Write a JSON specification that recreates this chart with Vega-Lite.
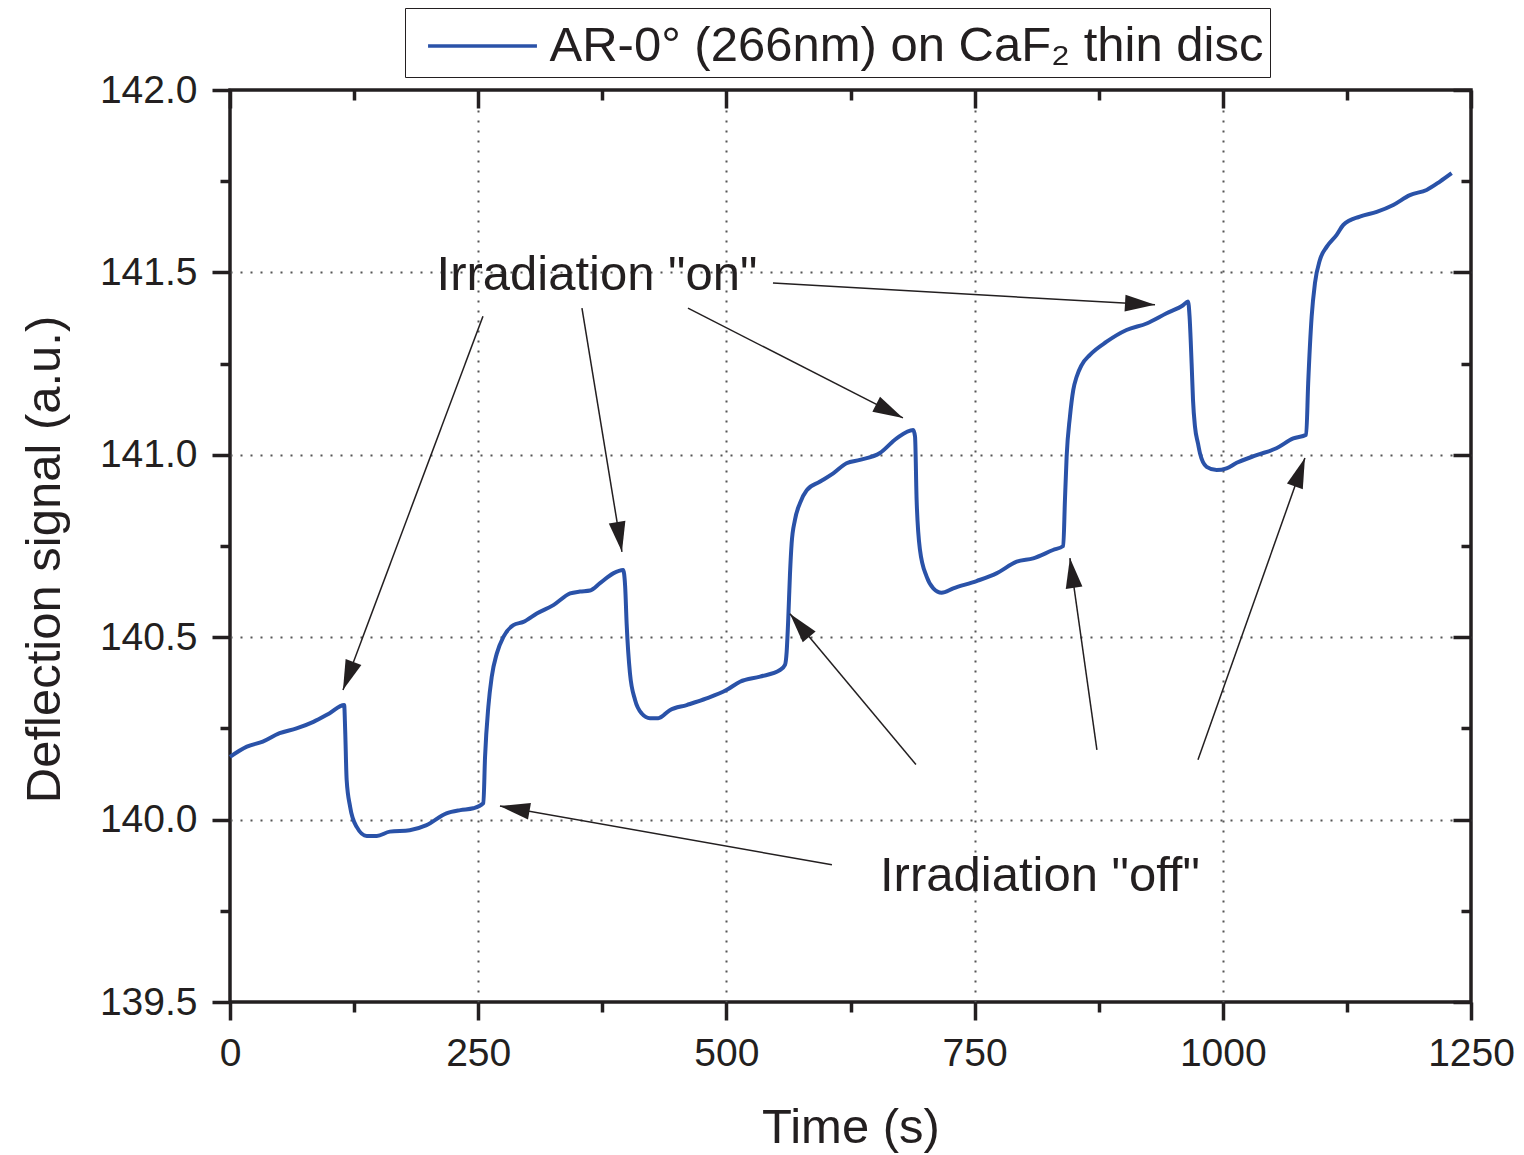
{
  "$schema": "https://vega.github.io/schema/vega-lite/v6.json",
  "autosize": "none",
  "width": 1241,
  "height": 912,
  "padding": {"left": 230, "top": 90, "right": 53, "bottom": 153},
  "background": "white",
  "config": {
    "font": "Liberation Sans",
    "view": {"stroke": "#231f20", "strokeWidth": 3.5},
    "axis": {"labelColor": "#231f20", "titleColor": "#231f20", "tickColor": "#231f20"}
  },
  "datasets": {
    "curve": [
      {"t": 0, "s": 140.172}, {"t": 17, "s": 140.2}, {"t": 33, "s": 140.214}, {"t": 50, "s": 140.237},
      {"t": 67, "s": 140.25}, {"t": 84, "s": 140.268}, {"t": 100, "s": 140.291}, {"t": 115, "s": 140.314},
      {"t": 116, "s": 140.246}, {"t": 117.5, "s": 140.109}, {"t": 121, "s": 140.035}, {"t": 127.6, "s": 139.98},
      {"t": 137.7, "s": 139.955}, {"t": 147.8, "s": 139.955}, {"t": 161, "s": 139.967}, {"t": 181, "s": 139.971},
      {"t": 198, "s": 139.985}, {"t": 218, "s": 140.017}, {"t": 232, "s": 140.026}, {"t": 245, "s": 140.031},
      {"t": 255.2, "s": 140.045}, {"t": 256.9, "s": 140.172}, {"t": 260.2, "s": 140.309}, {"t": 263.6, "s": 140.391},
      {"t": 268.7, "s": 140.455}, {"t": 275.4, "s": 140.501}, {"t": 285.4, "s": 140.533}, {"t": 295.5, "s": 140.542},
      {"t": 309, "s": 140.565}, {"t": 325.7, "s": 140.588}, {"t": 342.6, "s": 140.62}, {"t": 352.5, "s": 140.625},
      {"t": 362.6, "s": 140.628}, {"t": 372.7, "s": 140.648}, {"t": 386, "s": 140.675}, {"t": 396, "s": 140.684},
      {"t": 398, "s": 140.64}, {"t": 399.5, "s": 140.538}, {"t": 402.9, "s": 140.4}, {"t": 408, "s": 140.328},
      {"t": 414.7, "s": 140.291}, {"t": 423, "s": 140.278}, {"t": 431.4, "s": 140.278}, {"t": 443, "s": 140.3},
      {"t": 460, "s": 140.314}, {"t": 480, "s": 140.332}, {"t": 500, "s": 140.355}, {"t": 513.7, "s": 140.378},
      {"t": 534, "s": 140.392}, {"t": 554, "s": 140.41}, {"t": 559, "s": 140.424}, {"t": 560.7, "s": 140.46},
      {"t": 562.3, "s": 140.55}, {"t": 564, "s": 140.67}, {"t": 565.7, "s": 140.757}, {"t": 569, "s": 140.821},
      {"t": 574, "s": 140.867}, {"t": 580.9, "s": 140.903}, {"t": 594, "s": 140.926}, {"t": 607.6, "s": 140.949},
      {"t": 621, "s": 140.977}, {"t": 634.5, "s": 140.986}, {"t": 654.7, "s": 141.005}, {"t": 671.5, "s": 141.045},
      {"t": 688.2, "s": 141.068}, {"t": 690, "s": 141.05}, {"t": 691.6, "s": 140.876}, {"t": 695, "s": 140.739},
      {"t": 701.7, "s": 140.666}, {"t": 708.4, "s": 140.634}, {"t": 716.8, "s": 140.622}, {"t": 728.5, "s": 140.634},
      {"t": 752, "s": 140.654}, {"t": 772, "s": 140.675}, {"t": 792.4, "s": 140.707}, {"t": 809, "s": 140.716},
      {"t": 829, "s": 140.739}, {"t": 839.3, "s": 140.75}, {"t": 841, "s": 140.876}, {"t": 842.7, "s": 140.995},
      {"t": 846, "s": 141.104}, {"t": 849.4, "s": 141.178}, {"t": 852.8, "s": 141.214}, {"t": 857.8, "s": 141.246},
      {"t": 866.2, "s": 141.274}, {"t": 883, "s": 141.31}, {"t": 903, "s": 141.342}, {"t": 923.3, "s": 141.36},
      {"t": 943.4, "s": 141.388}, {"t": 960, "s": 141.41}, {"t": 965, "s": 141.42}, {"t": 966.5, "s": 141.38},
      {"t": 968.6, "s": 141.25}, {"t": 970, "s": 141.15}, {"t": 972, "s": 141.077}, {"t": 975, "s": 141.031},
      {"t": 977, "s": 141.004}, {"t": 983.7, "s": 140.967}, {"t": 993.8, "s": 140.958}, {"t": 1003.8, "s": 140.963},
      {"t": 1014, "s": 140.978}, {"t": 1034, "s": 140.999}, {"t": 1054, "s": 141.018}, {"t": 1071, "s": 141.045},
      {"t": 1084, "s": 141.055}, {"t": 1086, "s": 141.196}, {"t": 1089.5, "s": 141.379}, {"t": 1092.8, "s": 141.47},
      {"t": 1097.8, "s": 141.534}, {"t": 1104.6, "s": 141.57}, {"t": 1114.7, "s": 141.603}, {"t": 1121.3, "s": 141.63},
      {"t": 1138, "s": 141.653}, {"t": 1155, "s": 141.666}, {"t": 1171.7, "s": 141.685}, {"t": 1188.5, "s": 141.712},
      {"t": 1205.3, "s": 141.726}, {"t": 1218.7, "s": 141.749}, {"t": 1230.5, "s": 141.772}
    ],
    "arrows": [
      {"x1": 254.8, "y1": 141.38, "x2": 113.8, "y2": 140.355},
      {"x1": 354.5, "y1": 141.402, "x2": 394.8, "y2": 140.734},
      {"x1": 461.3, "y1": 141.402, "x2": 677.8, "y2": 141.101},
      {"x1": 546.9, "y1": 141.471, "x2": 931.7, "y2": 141.411},
      {"x1": 606.3, "y1": 139.876, "x2": 271.9, "y2": 140.037},
      {"x1": 690.9, "y1": 140.151, "x2": 564.0, "y2": 140.564},
      {"x1": 873.2, "y1": 140.191, "x2": 846.0, "y2": 140.717},
      {"x1": 975.0, "y1": 140.164, "x2": 1082.7, "y2": 140.991}
    ],
    "labels": [
      {"label": "Irradiation \"on\"", "x": 369.6, "y": 141.493},
      {"label": "Irradiation \"off\"", "x": 815.8, "y": 139.845}
    ]
  },
  "layer": [
    {
      "data": {"name": "curve"},
      "mark": {"type": "line", "strokeWidth": 4, "interpolate": "monotone"},
      "encoding": {
        "x": {
          "field": "t", "type": "quantitative",
          "scale": {"domain": [0, 1250], "nice": false, "zero": false},
          "axis": {
            "orient": "bottom",
            "title": "Time (s)",
            "values": [0, 125, 250, 375, 500, 625, 750, 875, 1000, 1125, 1250],
            "format": "d",
            "labelExpr": "datum.value % 250 === 0 ? datum.label : ''",
            "labelFontSize": 39, "labelPadding": 14, "labelFlush": false, "labelOverlap": false,
            "titleFontSize": 49, "titleFontWeight": "normal", "titlePadding": 30,
            "domain": false,
            "tickWidth": 3.5,
            "tickSize": {"condition": {"test": "datum.value % 250 === 0", "value": 18}, "value": 10},
            "grid": true,
            "gridColor": "#555555", "gridWidth": 2, "gridDash": [2, 8],
            "gridOpacity": {"condition": {"test": "datum.value % 250 === 0 && datum.value > 0 && datum.value < 1250", "value": 1}, "value": 0}
          }
        },
        "y": {
          "field": "s", "type": "quantitative",
          "scale": {"domain": [139.5, 142.0], "nice": false, "zero": false},
          "axis": {
            "orient": "left",
            "title": "Deflection signal (a.u.)",
            "values": [139.5, 139.75, 140.0, 140.25, 140.5, 140.75, 141.0, 141.25, 141.5, 141.75, 142.0],
            "format": ".1f",
            "labelExpr": "abs(datum.value * 2 - round(datum.value * 2)) < 0.001 ? datum.label : ''",
            "labelFontSize": 39, "labelPadding": 15, "labelFlush": false, "labelOverlap": false,
            "titleFontSize": 49, "titleFontWeight": "normal", "titlePadding": 30, "titleY": 469,
            "domain": false,
            "tickWidth": 3.5,
            "tickSize": {"condition": {"test": "abs(datum.value * 2 - round(datum.value * 2)) < 0.001", "value": 18}, "value": 10},
            "grid": true,
            "gridColor": "#555555", "gridWidth": 2, "gridDash": [2, 8],
            "gridOpacity": {"condition": {"test": "abs(datum.value * 2 - round(datum.value * 2)) < 0.001 && datum.value > 139.6 && datum.value < 141.9", "value": 1}, "value": 0}
          }
        },
        "color": {
          "datum": "AR-0° (266nm) on CaF₂ thin disc",
          "type": "nominal",
          "scale": {"range": ["#2a52a8"]},
          "legend": {
            "title": null,
            "orient": "none",
            "legendX": 175,
            "legendY": -82,
            "direction": "vertical",
            "symbolType": "M-1.8,0L1.8,0",
            "symbolSize": 3660,
            "symbolStrokeWidth": 3.5,
            "symbolFillColor": "transparent",
            "labelFontSize": 49,
            "labelColor": "#231f20",
            "labelOffset": 35,
            "labelLimit": 1000,
            "padding": 6,
            "symbolOffset": 39.5,
            "strokeColor": "#231f20",
            "fillColor": "white"
          }
        }
      }
    },
    {
      "data": {"name": "arrows"},
      "mark": {"type": "rule", "strokeWidth": 1.5, "color": "#231f20"},
      "encoding": {
        "x": {
          "field": "x1", "type": "quantitative",
          "scale": {"domain": [0, 1250], "nice": false, "zero": false},
          "axis": {
            "orient": "top", "labels": false, "title": null, "grid": false, "domain": false,
            "values": [0, 125, 250, 375, 500, 625, 750, 875, 1000, 1125, 1250],
            "tickWidth": 3.5,
            "tickSize": {"condition": {"test": "datum.value % 250 === 0", "value": -18}, "value": -10}
          }
        },
        "y": {
          "field": "y1", "type": "quantitative",
          "scale": {"domain": [139.5, 142.0], "nice": false, "zero": false},
          "axis": {
            "orient": "right", "labels": false, "title": null, "grid": false, "domain": false,
            "values": [139.5, 139.75, 140.0, 140.25, 140.5, 140.75, 141.0, 141.25, 141.5, 141.75, 142.0],
            "tickWidth": 3.5,
            "tickSize": {"condition": {"test": "abs(datum.value * 2 - round(datum.value * 2)) < 0.001", "value": -18}, "value": -10}
          }
        },
        "x2": {"field": "x2"},
        "y2": {"field": "y2"}
      }
    },
    {
      "data": {"name": "arrows"},
      "transform": [
        {"calculate": "atan2((datum.x2 - datum.x1) * 0.9928, (datum.y2 - datum.y1) * 364.8) * 180 / PI", "as": "ang"}
      ],
      "mark": {"type": "point", "shape": "M0,0 L0.28,1 L-0.28,1 Z", "filled": true, "size": 3600, "opacity": 1, "color": "#231f20", "strokeWidth": 0},
      "encoding": {
        "x": {"field": "x2", "type": "quantitative", "scale": {"domain": [0, 1250], "nice": false, "zero": false}, "axis": null},
        "y": {"field": "y2", "type": "quantitative", "scale": {"domain": [139.5, 142.0], "nice": false, "zero": false}, "axis": null},
        "angle": {"field": "ang", "type": "quantitative", "scale": null}
      }
    },
    {
      "data": {"name": "labels"},
      "mark": {"type": "text", "fontSize": 49, "align": "center", "baseline": "middle", "color": "#231f20"},
      "encoding": {
        "x": {"field": "x", "type": "quantitative", "scale": {"domain": [0, 1250], "nice": false, "zero": false}, "axis": null},
        "y": {"field": "y", "type": "quantitative", "scale": {"domain": [139.5, 142.0], "nice": false, "zero": false}, "axis": null},
        "text": {"field": "label"}
      }
    }
  ],
  "resolve": {"axis": {"x": "independent", "y": "independent"}}
}
